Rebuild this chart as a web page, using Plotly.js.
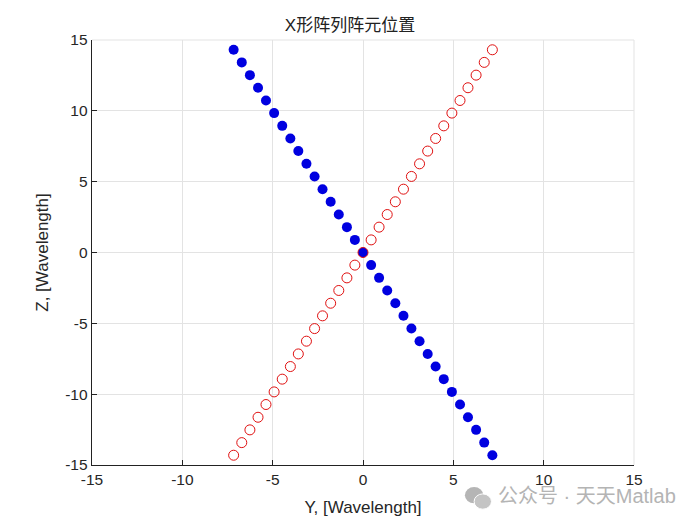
<!DOCTYPE html>
<html>
<head>
<meta charset="utf-8">
<script src="https://cdn.plot.ly/plotly-3.0.1.min.js"></script>
<style>html,body{margin:0;padding:0;background:#fff;}#chart{width:700px;height:525px;}</style>
</head>
<body>
<div id="chart"></div>
<script>
// Blue element positions (Y, Z) in wavelengths
const blueY = [-7.16,-6.71,-6.26,-5.81,-5.37,-4.92,-4.47,-4.02,-3.58,-3.13,-2.68,-2.24,-1.79,-1.34,-0.89,-0.45,0,0.45,0.89,1.34,1.79,2.24,2.68,3.13,3.58,4.02,4.47,4.92,5.37,5.81,6.26,6.71,7.16];
const blueZ = [14.31,13.42,12.52,11.63,10.73,9.84,8.94,8.05,7.16,6.26,5.37,4.47,3.58,2.68,1.79,0.89,0,-0.89,-1.79,-2.68,-3.58,-4.47,-5.37,-6.26,-7.16,-8.05,-8.94,-9.84,-10.73,-11.63,-12.52,-13.42,-14.31];
// Red element positions (Y, Z)
const redY = [-7.16,-6.71,-6.26,-5.81,-5.37,-4.92,-4.47,-4.02,-3.58,-3.13,-2.68,-2.24,-1.79,-1.34,-0.89,-0.45,0,0.45,0.89,1.34,1.79,2.24,2.68,3.13,3.58,4.02,4.47,4.92,5.37,5.81,6.26,6.71,7.16];
const redZ = [-14.31,-13.42,-12.52,-11.63,-10.73,-9.84,-8.94,-8.05,-7.16,-6.26,-5.37,-4.47,-3.58,-2.68,-1.79,-0.89,0,0.89,1.79,2.68,3.58,4.47,5.37,6.26,7.16,8.05,8.94,9.84,10.73,11.63,12.52,13.42,14.31];
const tickVals = [-15,-10,-5,0,5,10,15];
const tickText = ['-15','-10','-5','0','5','10','15'];

const font = 'Arial, "Liberation Sans", "Noto Sans CJK SC", sans-serif';
const traces = [
  {x: blueY, y: blueZ, mode: 'markers', type: 'scatter',
   marker: {size: 10, color: '#0000e0', line: {width: 0}}},
  {x: redY, y: redZ, mode: 'markers', type: 'scatter',
   marker: {size: 10, color: 'rgba(255,255,255,0)', line: {width: 1, color: '#e01010'}}}
];
const axisCommon = {
  range: [-15, 15], tickmode: 'array', tickvals: tickVals, ticktext: tickText,
  showgrid: true, gridcolor: '#e3e3e3', gridwidth: 1, zeroline: false,
  showline: true, linecolor: '#222', linewidth: 1.3,
  ticks: 'inside', ticklen: 5, tickcolor: '#222', tickwidth: 1,
  tickfont: {family: font, size: 15.5, color: '#262626'}
};
const layout = {
  width: 700, height: 525,
  margin: {l: 92, r: 66, t: 40, b: 60},
  paper_bgcolor: '#fff', plot_bgcolor: '#fff',
  showlegend: false,
  title: {text: 'X形阵列阵元位置', font: {family: font, size: 17, color: '#222'}, x: 0.5, xanchor: 'center', y: 0.952, yanchor: 'middle'},
  xaxis: Object.assign({}, axisCommon, {title: {text: 'Y, [Wavelength]', font: {family: font, size: 17, color: '#262626'}, standoff: 14}, mirror: false}),
  yaxis: Object.assign({}, axisCommon, {title: {text: 'Z, [Wavelength]', font: {family: font, size: 17, color: '#262626'}, standoff: 12}, mirror: false}),
  shapes: [
    {type: 'line', xref: 'paper', yref: 'paper', x0: 0, x1: 1, y0: 1, y1: 1, line: {color: '#e3e3e3', width: 1}},
    {type: 'line', xref: 'paper', yref: 'paper', x0: 1, x1: 1, y0: 0, y1: 1, line: {color: '#e3e3e3', width: 1}},
    {type: 'circle', xref: 'paper', yref: 'paper', x0: 0.688, x1: 0.722, y0: -0.09, y1: -0.052, fillcolor: '#b5b5b5', line: {width: 0}},
    {type: 'circle', xref: 'paper', yref: 'paper', x0: 0.705, x1: 0.737, y0: -0.104, y1: -0.068, fillcolor: '#c4c4c4', line: {color: '#fff', width: 1}}
  ],
  annotations: [
    {text: '公众号 · 天天Matlab', xref: 'paper', yref: 'paper', x: 0.745, y: -0.074, xanchor: 'left', yanchor: 'middle', showarrow: false,
     font: {family: font, size: 20, color: '#b4b4b4'}}
  ]
};
Plotly.newPlot('chart', traces, layout, {displayModeBar: false, staticPlot: true});
</script>
</body>
</html>
